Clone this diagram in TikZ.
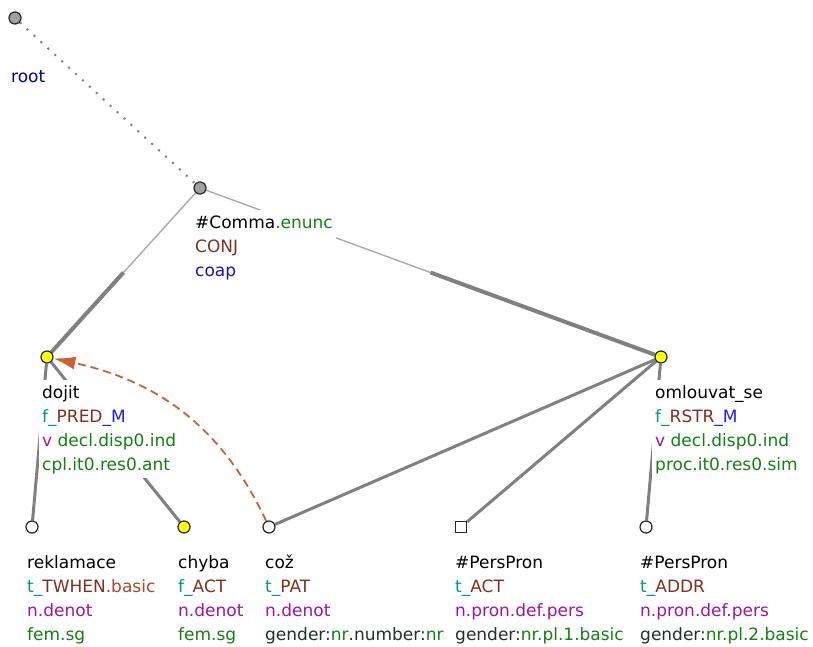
\documentclass[tikz,border=0pt]{standalone}
\usepackage{fontspec}
\setmainfont{DejaVu Sans}
\usetikzlibrary{calc,arrows.meta}
\definecolor{edgegray}{RGB}{128,128,128}
\definecolor{thingray}{RGB}{170,170,170}
\definecolor{dotgray}{RGB}{125,125,125}
\definecolor{nodegray}{RGB}{160,160,160}
\definecolor{nodeyellow}{RGB}{255,255,0}
\definecolor{arrowcol}{RGB}{205,95,55}
\definecolor{cteal}{RGB}{0,150,150}
\definecolor{cbrown}{RGB}{128,48,32}
\definecolor{clbrown}{RGB}{170,70,50}
\definecolor{cpurple}{RGB}{160,20,160}
\definecolor{cgreen}{RGB}{20,128,20}
\definecolor{cblueM}{RGB}{30,30,240}
\definecolor{cnavy}{RGB}{0,0,150}
\definecolor{cblue}{RGB}{20,20,180}
\definecolor{cdark}{RGB}{30,50,40}
\pgfdeclarelayer{edges}
\pgfdeclarelayer{labels}
\pgfsetlayers{edges,labels,main}
\newcommand{\lbl}[1]{\begin{tabular}[t]{@{}l@{}}#1\end{tabular}}
\newcommand{\tc}[2]{\textcolor{#1}{#2}}
\begin{document}
\begin{tikzpicture}[x=1pt,y=-1pt,
  tnode/.style={circle,draw=black!85,line width=1.2pt,minimum size=12pt,inner sep=0pt},
  sqnode/.style={rectangle,draw=black!85,line width=1.2pt,minimum size=11pt,inner sep=0pt,fill=white},
  tlabel/.style={anchor=base west,fill=white,inner xsep=3pt,inner ysep=1pt,
    font=\fontsize{17}{24}\selectfont},
  coordthin/.style={draw=thingray,line width=1.4pt},
  coordthick/.style={draw=edgegray,line width=4pt},
  depedge/.style={draw=edgegray,line width=3pt},
  rootedge/.style={draw=dotgray,line width=2pt,dash pattern=on 2pt off 7.4pt},
  corefarrow/.style={draw=arrowcol,line width=1.8pt,dash pattern=on 8pt off 5pt,
    -{Latex[length=22pt,width=13pt]}}
]
\useasboundingbox (0,0) rectangle (813,647);
% tree nodes
\node[tnode,fill=nodegray] (root) at (15,18) {};
\node[tnode,fill=nodegray] (comma) at (200,188) {};
\node[tnode,fill=nodeyellow] (dojit) at (47,357) {};
\node[tnode,fill=nodeyellow] (omlouvat) at (661,357) {};
\node[tnode,fill=white] (reklamace) at (32,527) {};
\node[tnode,fill=nodeyellow] (chyba) at (184,527) {};
\node[tnode,fill=white] (coz) at (269,527) {};
\node[sqnode] (pp1) at (461,527) {};
\node[tnode,fill=white] (pp2) at (646,527) {};
% edges
\begin{pgfonlayer}{edges}
\draw[rootedge] (root) -- (comma);
\draw[coordthin] (comma) -- ($(comma)!0.5!(dojit)$);
\draw[coordthick] ($(comma)!0.5!(dojit)$) -- (dojit);
\draw[coordthin] (comma) -- ($(comma)!0.5!(omlouvat)$);
\draw[coordthick] ($(comma)!0.5!(omlouvat)$) -- (omlouvat);
\draw[depedge] (dojit) -- (reklamace);
\draw[depedge] (dojit) -- (chyba);
\draw[depedge] (omlouvat) -- (coz);
\draw[depedge] (omlouvat) -- (pp1);
\draw[depedge] (omlouvat) -- (pp2);
\end{pgfonlayer}
% labels
\begin{pgfonlayer}{labels}
\node[tlabel] (lroot) at (8,83) {\lbl{\tc{cnavy}{root}}};
\node[tlabel] (lcomma) at (192,228) {\lbl{\#Comma\tc{cgreen}{.enunc}\\ \tc{cbrown}{CONJ}\\ \tc{cblue}{coap}}};
\node[tlabel] (ldojit) at (39,398) {\lbl{dojit\\ \tc{cteal}{f\_}\tc{cbrown}{PRED}\tc{cblueM}{\_M}\\ \tc{cpurple}{v} \tc{cgreen}{decl.disp0.ind}\\ \tc{cgreen}{cpl.it0.res0.ant}}};
\node[tlabel] (lomlouvat) at (652,398) {\lbl{omlouvat\_se\\ \tc{cteal}{f\_}\tc{cbrown}{RSTR}\tc{cblueM}{\_M}\\ \tc{cpurple}{v} \tc{cgreen}{decl.disp0.ind}\\ \tc{cgreen}{proc.it0.res0.sim}}};
\node[tlabel] (lreklamace) at (24,568) {\lbl{reklamace\\ \tc{cteal}{t\_}\tc{cbrown}{TWHEN}\tc{clbrown}{.basic}\\ \tc{cpurple}{n.denot}\\ \tc{cgreen}{fem.sg}}};
\node[tlabel] (lchyba) at (175,568) {\lbl{chyba\\ \tc{cteal}{f\_}\tc{cbrown}{ACT}\\ \tc{cpurple}{n.denot}\\ \tc{cgreen}{fem.sg}}};
\node[tlabel] (lcoz) at (262,568) {\lbl{což\\ \tc{cteal}{t\_}\tc{cbrown}{PAT}\\ \tc{cpurple}{n.denot}\\ \tc{cdark}{gender:}\tc{cgreen}{nr}\tc{cdark}{.number:}\tc{cgreen}{nr}}};
\node[tlabel] (lpp1) at (452,568) {\lbl{\#PersPron\\ \tc{cteal}{t\_}\tc{cbrown}{ACT}\\ \tc{cpurple}{n.pron.def.pers}\\ \tc{cdark}{gender:}\tc{cgreen}{nr.pl.1.basic}}};
\node[tlabel] (lpp2) at (637,568) {\lbl{\#PersPron\\ \tc{cteal}{t\_}\tc{cbrown}{ADDR}\\ \tc{cpurple}{n.pron.def.pers}\\ \tc{cdark}{gender:}\tc{cgreen}{nr.pl.2.basic}}};
\end{pgfonlayer}
% coreference arrow
\draw[corefarrow] (coz) .. controls (224,431) and (162,382) .. (dojit);
\end{tikzpicture}
\end{document}
